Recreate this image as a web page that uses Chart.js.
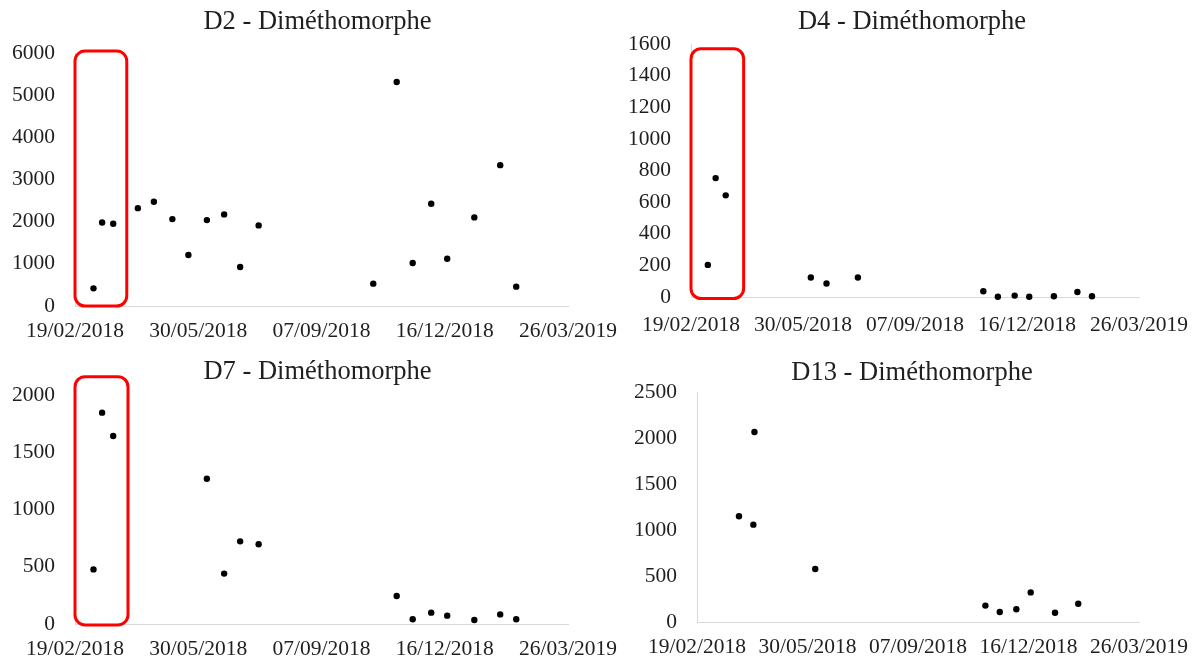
<!DOCTYPE html>
<html>
<head>
<meta charset="utf-8">
<title>Diméthomorphe</title>
<script src="https://cdn.jsdelivr.net/npm/chart.js@4.4.1/dist/chart.umd.min.js"></script>
<style>
  html, body { margin: 0; padding: 0; background: #ffffff; width: 1197px; height: 661px; overflow: hidden; position: relative; }
  .panel { position: absolute; }
  .panel canvas { display: block; }
</style>
</head>
<body>
<div class="panel" style="left:0px;top:0px"><canvas id="chart-d2" width="635" height="345"></canvas></div>
<div class="panel" style="left:617px;top:0px"><canvas id="chart-d4" width="590" height="345"></canvas></div>
<div class="panel" style="left:0px;top:330px"><canvas id="chart-d7" width="635" height="331"></canvas></div>
<div class="panel" style="left:617px;top:330px"><canvas id="chart-d13" width="590" height="331"></canvas></div>

<script>
// Axis ticks (every 100 days)
const tickDates = ['2018-02-19', '2018-05-30', '2018-09-07', '2018-12-16', '2019-03-26'];

// D2 - sampling dates and concentrations
const d2Dates = ['2018-03-06', '2018-03-13', '2018-03-22', '2018-04-11', '2018-04-24', '2018-05-09',
                 '2018-05-22', '2018-06-06', '2018-06-20', '2018-07-03', '2018-07-18', '2018-10-19',
                 '2018-11-07', '2018-11-20', '2018-12-05', '2018-12-18', '2019-01-09', '2019-01-30',
                 '2019-02-12'];
const d2Values = [419, 1982, 1951, 2321, 2472, 2061, 1208, 2037, 2172, 924, 1911, 530,
                  5314, 1019, 2425, 1122, 2101, 3340, 459];

// D4
const d4Dates = ['2018-03-06', '2018-03-13', '2018-03-22', '2018-06-06', '2018-06-20', '2018-07-18',
                 '2018-11-07', '2018-11-20', '2018-12-05', '2018-12-18', '2019-01-09', '2019-01-30',
                 '2019-02-12'];
const d4Values = [203, 752, 643, 123, 85, 123, 36, 2, 9, 2, 5, 32, 5];

// D7
const d7Dates = ['2018-03-06', '2018-03-13', '2018-03-22', '2018-06-06', '2018-06-20', '2018-07-03',
                 '2018-07-18', '2018-11-07', '2018-11-20', '2018-12-05', '2018-12-18', '2019-01-09',
                 '2019-01-30', '2019-02-12'];
const d7Values = [477, 1846, 1642, 1269, 440, 722, 696, 245, 41, 99, 73, 35, 84, 41];

// D13
const d13Dates = ['2018-03-29', '2018-04-11', '2018-04-12', '2018-06-06', '2018-11-07', '2018-11-20',
                  '2018-12-05', '2018-12-18', '2019-01-09', '2019-01-30'];
const d13Values = [1149, 1058, 2065, 576, 178, 109, 138, 322, 101, 199];

// Highlighted early-season period (red frame)
const d2Frame = { from: '2018-02-19', to: '2018-04-02', top: 6045, bottom: 0 };
const d4Frame = { from: '2018-02-19', to: '2018-04-07', top: 1570, bottom: -10 };
const d7Frame = { from: '2018-02-19', to: '2018-04-03', top: 2160, bottom: -8 };

// ---- helpers ----
const DAY_MS = 86400000;
const toDay = s => Date.UTC(+s.slice(0, 4), +s.slice(5, 7) - 1, +s.slice(8, 10)) / DAY_MS;
const pad2 = n => String(n).padStart(2, '0');
const fmtDay = d => {
  const t = new Date(Math.round(d) * DAY_MS);
  return pad2(t.getUTCDate()) + '/' + pad2(t.getUTCMonth() + 1) + '/' + t.getUTCFullYear();
};
const tickDays = tickDates.map(toDay);

const TEXT = '#1f1f1f';
const AXIS = '#d9d9d9';
const FONT = '"Liberation Serif", "Times New Roman", serif';

// Chart heading centred on the whole panel
const headingPlugin = {
  id: 'heading',
  afterDraw(chart, args, opts) {
    if (!opts || !opts.text) return;
    const ctx = chart.ctx;
    ctx.save();
    ctx.font = opts.size + 'px ' + FONT;
    ctx.fillStyle = TEXT;
    ctx.textAlign = 'center';
    ctx.textBaseline = 'middle';
    ctx.fillText(opts.text, chart.width / 2, opts.y);
    ctx.restore();
  }
};

// Rounded red frame around a date range
const framePlugin = {
  id: 'frame',
  afterDatasetsDraw(chart, args, opts) {
    if (!opts || !opts.from) return;
    const xs = chart.scales.x, ys = chart.scales.y;
    const left = xs.getPixelForValue(toDay(opts.from));
    const right = xs.getPixelForValue(toDay(opts.to));
    const top = ys.getPixelForValue(opts.top);
    const bottom = ys.getPixelForValue(opts.bottom || 0);
    const ctx = chart.ctx;
    ctx.save();
    ctx.strokeStyle = '#ff0000';
    ctx.lineWidth = 3;
    ctx.beginPath();
    ctx.roundRect(left, top, right - left, bottom - top, 10);
    ctx.stroke();
    ctx.restore();
  }
};

function makeChart(id, cfg) {
  const points = cfg.dates.map((d, i) => ({ x: toDay(d), y: cfg.values[i] }));
  return new Chart(document.getElementById(id), {
    type: 'scatter',
    data: {
      datasets: [{
        data: points,
        pointRadius: 3.2,
        pointHoverRadius: 3.2,
        pointBackgroundColor: '#000000',
        pointBorderWidth: 0,
        showLine: false,
        clip: false
      }]
    },
    options: {
      responsive: false,
      animation: false,
      events: [],
      layout: { padding: cfg.padding },
      plugins: {
        legend: { display: false },
        tooltip: { enabled: false },
        heading: { text: cfg.title, y: cfg.titleY, size: 26.5 },
        frame: cfg.frame || {}
      },
      scales: {
        x: {
          type: 'linear',
          min: tickDays[0],
          max: tickDays[tickDays.length - 1],
          afterBuildTicks: s => { s.ticks = tickDays.map(v => ({ value: v })); },
          afterFit: s => { s.height = cfg.xHeight; },
          grid: { display: false, drawTicks: false },
          border: { display: true, color: AXIS, width: 1 },
          ticks: {
            autoSkip: false, maxRotation: 0, padding: cfg.xPad, color: TEXT,
            font: { family: FONT, size: 21.5 },
            callback: v => fmtDay(v)
          }
        },
        y: {
          min: 0,
          max: cfg.yMax,
          afterFit: s => { s.width = cfg.yWidth; },
          grid: { display: false, drawTicks: false },
          border: { display: true, color: AXIS, width: 1 },
          ticks: {
            stepSize: cfg.yStep, padding: 20, color: TEXT,
            font: { family: FONT, size: 21.5 },
            callback: v => String(v)
          }
        }
      }
    },
    plugins: [headingPlugin, framePlugin]
  });
}

makeChart('chart-d2', {
  title: 'D2 - Diméthomorphe', titleY: 22,
  dates: d2Dates, values: d2Values, yMax: 6000, yStep: 1000,
  padding: { top: 53, right: 67, bottom: 0, left: 0 }, yWidth: 75, xHeight: 39, xPad: 12,
  frame: d2Frame
});

makeChart('chart-d4', {
  title: 'D4 - Diméthomorphe', titleY: 22,
  dates: d4Dates, values: d4Values, yMax: 1600, yStep: 200,
  padding: { top: 44, right: 68, bottom: 0, left: 0 }, yWidth: 74, xHeight: 48, xPad: 15.5,
  frame: d4Frame
});

makeChart('chart-d7', {
  title: 'D7 - Diméthomorphe', titleY: 42.5,
  dates: d7Dates, values: d7Values, yMax: 2000, yStep: 500,
  padding: { top: 65, right: 67, bottom: 0, left: 0 }, yWidth: 75, xHeight: 37, xPad: 12,
  frame: d7Frame
});

makeChart('chart-d13', {
  title: 'D13 - Diméthomorphe', titleY: 43.5,
  dates: d13Dates, values: d13Values, yMax: 2500, yStep: 500,
  padding: { top: 62, right: 68, bottom: 0, left: 0 }, yWidth: 80, xHeight: 39, xPad: 12.3
});
</script>
</body>
</html>
